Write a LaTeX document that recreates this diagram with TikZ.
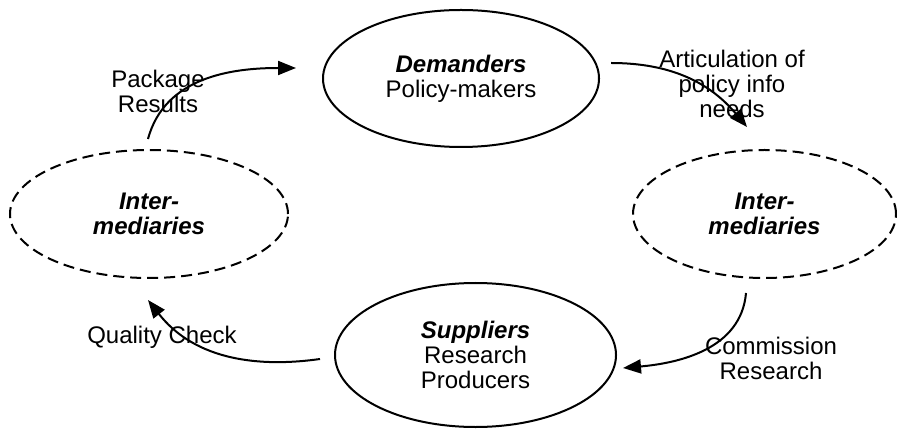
\documentclass[tikz,border=0pt]{standalone}
\usepackage{fontspec}
\setmainfont{Liberation Sans}
\usetikzlibrary{shapes.geometric, arrows.meta}
\tikzstyle{actor} = [ellipse, inner sep=0pt, outer sep=0pt, align=center, draw=black, line width=1pt]
\tikzstyle{inter} = [actor, minimum width=139pt, minimum height=64pt, dash pattern=on 5.5pt off 3pt]
\tikzstyle{flowtext} = [align=center, inner sep=0pt]
\tikzstyle{arrow} = [line width=1pt, -{Triangle[length=9pt,width=7pt]}]
\newcommand{\role}[1]{\textbf{\textit{#1}}}

\begin{document}
\begin{tikzpicture}[x=0.5pt, y=0.5pt, font=\fontsize{12}{12.5}\selectfont]
\useasboundingbox (0,0) rectangle (897,428);

% the four parties
\node (demanders) [actor, minimum width=138pt, minimum height=68.5pt] at (461,349.5) {\role{Demanders}\\Policy-makers};
\node (interright) [inter, minimum width=131.5pt] at (764.5,214) {\role{Inter-}\\\role{mediaries}};
\node (suppliers) [actor, minimum width=140.5pt, minimum height=72pt] at (475.5,73) {\role{Suppliers}\\Research\\Producers};
\node (interleft) [inter] at (149,214) {\role{Inter-}\\\role{mediaries}};

% the cycle
\draw [arrow] ([shift={(12,15.5)}]demanders.east) to[out=0, in=130] ([shift={(-17.5,23)}]interright.north);
\draw [arrow] ([shift={(-18.5,-15)}]interright.south) to[out=-95, in=5] ([shift={(7,-13)}]suppliers.east);
\draw [arrow] ([shift={(-15,-4)}]suppliers.west) to[out=188, in=-52] ([shift={(-1,-22)}]interleft.south);
\draw [arrow] ([shift={(-1,11)}]interleft.north) to[out=75, in=180] ([shift={(-27,10.5)}]demanders.west);

\node (articulation) [flowtext] at (732,344.5) {Articulation of\\policy info\\needs};
\node (commission) [flowtext] at (771,70) {Commission\\Research};
\node (quality) [flowtext] at (162,91) {Quality Check};
\node (package) [flowtext] at (158,336.5) {Package\\Results};

\end{tikzpicture}
\end{document}
